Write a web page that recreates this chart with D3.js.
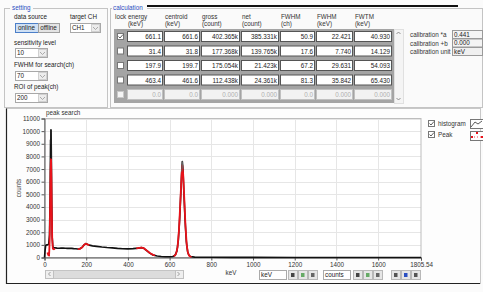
<!DOCTYPE html>
<html>
<head>
<meta charset="utf-8">
<script src="https://cdn.jsdelivr.net/npm/d3@7"></script>
<style>
  body { margin: 0; background: #fff; }
  svg { display: block; font-family: "Liberation Sans", Arial, sans-serif; }
</style>
</head>
<body>
<svg id="chart" width="483" height="292"></svg>
<script>
// histogram (keV, counts)
var histKeV    = [0, 3, 6, 10, 15, 20, 24, 27, 29, 30, 31, 32, 33, 35, 37, 40, 45, 50, 60, 70, 80, 90, 100, 110, 120, 130, 140, 150, 160, 170, 180, 190, 198, 205, 215, 230, 250, 275, 300, 325, 350, 375, 400, 425, 450, 465, 475, 490, 505, 520, 540, 560, 580, 600, 615, 625, 635, 642, 648, 654, 658, 661, 664, 668, 674, 680, 686, 692, 700, 720, 750, 800, 900, 1000, 1200, 1400, 1600, 1805.54];
var histCounts = [0, 600, 950, 1000, 1000, 1050, 1800, 5000, 9300, 9000, 10100, 9400, 7800, 4200, 1600, 850, 760, 770, 740, 730, 750, 740, 730, 720, 730, 720, 700, 690, 670, 690, 800, 1000, 1100, 1050, 980, 920, 880, 830, 790, 760, 720, 690, 680, 700, 740, 780, 740, 550, 350, 200, 120, 80, 60, 60, 80, 150, 500, 1400, 3000, 5200, 6800, 7600, 7000, 5300, 3000, 1300, 500, 200, 80, 30, 20, 15, 10, 8, 5, 3, 2, 0];

// peak search result (red), one array per ROI
var peak1KeV = [14, 18, 22, 25, 27, 29, 30.5, 31.5, 33, 35, 37, 40, 45, 50];
var peak1Cnt = [400, 200, 150, 1500, 4200, 6800, 7600, 7800, 6400, 3500, 1500, 700, 650, 700];
var peak2KeV = [160, 170, 180, 190, 198, 205, 215];
var peak2Cnt = [660, 690, 790, 1000, 1090, 1040, 970];
var peak3KeV = [440, 455, 465, 475, 490, 505, 520, 530];
var peak3Cnt = [720, 760, 790, 750, 560, 360, 210, 160];
var peak4KeV = [620, 630, 638, 645, 652, 657, 661, 665, 670, 676, 682, 688, 695, 705];
var peak4Cnt = [100, 250, 800, 2200, 4600, 6400, 7300, 6600, 4800, 2500, 1000, 350, 120, 40];

var xTicks = [0, 200, 400, 600, 800, 1000, 1200, 1400, 1600];
var xMax = 1805.54;
var yTicks = [0, 1000, 2000, 3000, 4000, 5000, 6000, 7000, 8000, 9000, 10000, 11000];

// calculation table
var tableHeads = [["lock", ""], ["energy", "(keV)"], ["centroid", "(keV)"], ["gross", "(count)"], ["net", "(count)"], ["FWHM", "(ch)"], ["FWHM", "(keV)"], ["FWTM", "(keV)"]];
var tableLock = [true, false, false, false, false];
var tableRows = [
  ["661.1", "661.6", "402.365k", "385.331k", "50.9", "22.421", "40.930"],
  ["31.4", "31.8", "177.368k", "139.765k", "17.6", "7.740", "14.129"],
  ["197.9", "199.7", "175.054k", "21.423k", "67.2", "29.631", "54.093"],
  ["463.4", "461.6", "112.438k", "24.361k", "81.3", "35.842", "65.430"],
  ["0.0", "0.0", "0.000", "0.000", "0.0", "0.000", "0.000"]
];
var calibLabels = ["calibration *a", "calibration +b", "calibration unit"];
var calibValues = ["0.441", "0.000", "keV"];

var svg = d3.select("#chart");
var fs = 6.3;

function text(x, y, s, opt) {
  opt = opt || {};
  return svg.append("text").attr("x", x).attr("y", y).text(s)
    .attr("font-size", opt.size || fs)
    .attr("fill", opt.fill || "#222")
    .attr("text-anchor", opt.anchor || "start");
}
function box(x, y, w, h, fill, stroke) {
  return svg.append("rect").attr("x", x + 0.5).attr("y", y + 0.5).attr("width", w).attr("height", h)
    .attr("fill", fill).attr("stroke", stroke || "#a0a0a0").attr("stroke-width", 1);
}
function dropdown(x, y, w, s) {
  box(x, y, w, 9, "#fff", "#a8a8a8");
  box(x + w - 9, y + 1, 8, 7, "#ececec", "#d0d0d0");
  svg.append("path").attr("d", "M" + (x + w - 7) + "," + (y + 4) + "l2.5,2.5l2.5,-2.5")
    .attr("fill", "none").attr("stroke", "#999").attr("stroke-width", 0.8);
  text(x + 2, y + 7, s);
}
function checkbox(x, y, checked, dim) {
  box(x, y, 6, 6, dim ? "#f4f4f4" : "#fff", dim ? "#c8c8c8" : "#777");
  if (checked) svg.append("path").attr("d", "M" + (x + 1.5) + "," + (y + 3.5) + "l1.5,1.5l3,-3.5")
    .attr("fill", "none").attr("stroke", "#333").attr("stroke-width", 0.8);
}

// window background
svg.append("rect").attr("width", 483).attr("height", 292).attr("fill", "#fbfbfb");

// ---- setting panel
box(4, 8, 103, 99, "#fafafa", "#c4c4c4");
svg.append("rect").attr("x", 10).attr("y", 4).attr("width", 23).attr("height", 8).attr("fill", "#fafafa");
text(12, 10, "setting", { fill: "#2a4fc2" });
text(14, 19, "data source");
text(70, 19, "target CH");
box(15, 23, 23, 9, "#cfe0f4", "#4c7fc8");
text(26.5, 30, "online", { anchor: "middle" });
box(38, 23, 21, 9, "#e4e4e4", "#a0a0a0");
text(48.5, 30, "offline", { anchor: "middle" });
dropdown(70, 23, 30, "CH1");
text(14, 45, "sensitivity level");
dropdown(15, 48, 32, "10");
text(14, 67, "FWHM for search(ch)");
dropdown(15, 71, 32, "70");
text(14, 89, "ROI of peak(ch)");
dropdown(15, 93, 32, "200");

// ---- calculation panel
box(110, 8, 372, 99, "#fafafa", "#c4c4c4");
svg.append("line").attr("x1", 118).attr("x2", 458).attr("y1", 6).attr("y2", 6)
  .attr("stroke", "#111").attr("stroke-width", 2);
svg.append("rect").attr("x", 112).attr("y", 5).attr("width", 35).attr("height", 7).attr("fill", "#fafafa");
text(113, 10, "calculation", { fill: "#2a4fc2" });

var colX = [114, 127, 164, 201, 241, 280, 316, 354];
var colW = [0, 36, 36, 39, 38, 35, 37, 38];
tableHeads.forEach(function(h, i) {
  text(colX[i] + 1, 19, h[0], { fill: "#333" });
  if (h[1]) text(colX[i] + 1, 26, h[1], { fill: "#333" });
});
svg.append("rect").attr("x", 114).attr("y", 29).attr("width", 280).attr("height", 74).attr("fill", "#a4a4a4");
var rowY = d3.range(tableRows.length).map(function(i) { return 31 + i * 14.5; });
tableRows.forEach(function(r, i) {
  var dim = i === tableRows.length - 1;
  checkbox(117, rowY[i] + 2, tableLock[i], dim);
  r.forEach(function(v, j) {
    var x = colX[j + 1], w = colW[j + 1] - 1;
    box(x, rowY[i], w, 10, dim ? "#f2f2f2" : "#fff", dim ? "#c0c0c0" : "#555");
    text(x + w - 1, rowY[i] + 8, v, { anchor: "end", fill: dim ? "#b0b0b0" : "#222" });
  });
});
box(394, 29, 9, 74, "#f4f4f4", "#e0e0e0");
svg.append("path").attr("d", "M396.5,34l2,-2l2,2M396.5,98l2,2l2,-2")
  .attr("fill", "none").attr("stroke", "#777").attr("stroke-width", 0.8);

calibLabels.forEach(function(l, i) {
  text(410, 37 + i * 8.5, l, { fill: "#333" });
  box(452, 30 + i * 8.5, 30, 8, i === 2 ? "#f0f0f0" : "#f4f4f4", "#9a9a9a");
  text(454, 36.5 + i * 8.5, calibValues[i]);
});

// ---- chart panel
svg.append("rect").attr("x", 6.5).attr("y", 108.5).attr("width", 474).attr("height", 175)
  .attr("fill", "#fdfdfd").attr("stroke", "#c8c8c8");
svg.append("path").attr("d", "M6.5,108.5V283.5H480").attr("fill", "none").attr("stroke", "#222").attr("stroke-width", 1.2);

var m = { left: 44.5, right: 421, top: 118.5, bottom: 257.5 };
var x = d3.scaleLinear().domain([0, xMax]).range([m.left, m.right]);
var y = d3.scaleLinear().domain([0, 11000]).range([m.bottom, m.top]);

svg.append("rect").attr("x", m.left).attr("y", m.top).attr("width", m.right - m.left)
  .attr("height", m.bottom - m.top).attr("fill", "#fff");

var grid = svg.append("g").attr("stroke", "#e6e6e6").attr("stroke-width", 1);
xTicks.slice(1).forEach(function(t) {
  grid.append("line").attr("x1", Math.round(x(t)) + 0.5).attr("x2", Math.round(x(t)) + 0.5)
    .attr("y1", m.top).attr("y2", m.bottom);
});
yTicks.slice(1).forEach(function(t) {
  grid.append("line").attr("x1", m.left).attr("x2", m.right)
    .attr("y1", Math.round(y(t)) + 0.5).attr("y2", Math.round(y(t)) + 0.5);
});

svg.append("rect").attr("x", m.left).attr("y", m.top).attr("width", m.right - m.left)
  .attr("height", m.bottom - m.top).attr("fill", "none").attr("stroke", "#bdbdbd");

text(46, 115, "peak search", { fill: "#333" });

// axes
var yAxis = svg.append("g").attr("transform", "translate(" + m.left + ",0)")
  .call(d3.axisLeft(y).tickValues(yTicks).tickSize(3).tickPadding(1.5).tickFormat(d3.format("d")));
var xAxis = svg.append("g").attr("transform", "translate(0," + m.bottom + ")")
  .call(d3.axisBottom(x).tickValues(xTicks.concat([xMax])).tickSize(3).tickPadding(2)
    .tickFormat(function(d) { return d === xMax ? "1805.54" : d3.format("d")(d); }));
[xAxis, yAxis].forEach(function(a) {
  a.selectAll("text").attr("font-size", fs).attr("fill", "#333").attr("font-family", "Liberation Sans, Arial, sans-serif");
  a.selectAll("line").attr("stroke", "#555");
  a.select(".domain").attr("stroke", "#555");
});

text(0, 0, "counts", { anchor: "middle", fill: "#333" })
  .attr("transform", "translate(21,188) rotate(-90)");
text(231, 275, "keV", { anchor: "middle", fill: "#333" });

// data lines
var line = d3.line().x(function(d) { return x(d[0]); }).y(function(d) { return y(d[1]); });
var hist = d3.zip(histKeV, histCounts);
svg.append("path").datum(hist).attr("d", line).attr("fill", "none")
  .attr("stroke", "#111").attr("stroke-width", 1.6).attr("stroke-linejoin", "round");

var peaks = [d3.zip(peak1KeV, peak1Cnt), d3.zip(peak2KeV, peak2Cnt), d3.zip(peak3KeV, peak3Cnt), d3.zip(peak4KeV, peak4Cnt)];
svg.selectAll(".peak").data(peaks).enter().append("path").attr("class", "peak")
  .attr("d", line).attr("fill", "none").attr("stroke", "#e8121a").attr("stroke-width", 1.8)
  .attr("stroke-linejoin", "round");
svg.append("path").datum(hist.filter(function(d) { return d[0] >= 28 && d[0] <= 34; }))
  .attr("d", line).attr("fill", "none").attr("stroke", "#222").attr("stroke-width", 0.9);
svg.append("path").datum(hist.filter(function(d) { return d[0] >= 658 && d[0] <= 664; }))
  .attr("d", line).attr("fill", "none").attr("stroke", "#666").attr("stroke-width", 0.9);

// legend
checkbox(428, 120, true);
text(438, 125.5, "histogram", { fill: "#333" });
box(470, 119, 14, 9, "#fff", "#777");
svg.append("path").attr("d", "M471,127l4,-5l3,2l4,-3").attr("fill", "none").attr("stroke", "#333").attr("stroke-width", 0.8);
checkbox(428, 131, true);
text(438, 136.5, "Peak", { fill: "#333" });
box(470, 131, 14, 9, "#fff", "#777");
svg.append("path").attr("d", "M471,137h12").attr("fill", "none").attr("stroke", "#e8121a")
  .attr("stroke-width", 0.8).attr("stroke-dasharray", "1,2");
[[472, 137], [477, 133], [482, 137]].forEach(function(p) {
  svg.append("rect").attr("x", p[0] - 1).attr("y", p[1] - 1).attr("width", 2).attr("height", 2).attr("fill", "#e8121a");
});

// scrollbar
box(45, 270, 138, 8, "#dcdcdc", "#c4c4c4");
box(45, 270, 8, 8, "#efefef", "#c0c0c0");
box(175, 270, 8, 8, "#efefef", "#c0c0c0");
svg.append("path").attr("d", "M50.5,272l-2,2l2,2M177.5,272l2,2l-2,2").attr("fill", "none").attr("stroke", "#888").attr("stroke-width", 0.8);

// scale controls
function toolBtn(bx, color) {
  box(bx, 270, 9, 9, "#e6e6e6", "#b8b8b8");
  svg.append("rect").attr("x", bx + 3).attr("y", 273).attr("width", 3.5).attr("height", 4).attr("fill", color);
}
box(259, 270, 27, 9, "#fff", "#aaa");
text(261, 277, "keV");
toolBtn(288, "#444"); toolBtn(298, "#6a6"); toolBtn(308, "#666");
box(323, 270, 27, 9, "#fff", "#aaa");
text(325, 277, "counts");
toolBtn(353, "#444"); toolBtn(363, "#6a6"); toolBtn(373, "#666");
toolBtn(391, "#555"); toolBtn(401, "#2a4fc2"); toolBtn(411, "#555");
</script>
</body>
</html>
